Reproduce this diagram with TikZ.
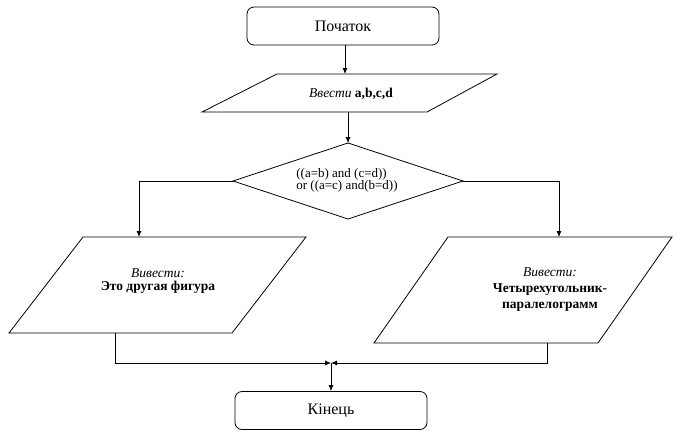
\documentclass[tikz,border=0pt]{standalone}
\usepackage{fontspec}
\setmainfont{Liberation Serif}
\usetikzlibrary{arrows.meta}
\begin{document}
\begin{tikzpicture}[x=1pt,y=-1pt,line width=0.8pt,
  term/.style={draw,rounded corners=7pt,minimum width=192pt,minimum height=38pt,font=\fontsize{16}{18}\selectfont},
  shp/.style={draw,line width=0.8pt,line join=miter},
  txt/.style={align=center,inner sep=0pt,font=\fontsize{13.5}{13}\selectfont},
  arr/.style={-{Latex[length=6pt,width=5pt]}}]
\useasboundingbox (0,0) rectangle (677,442);
\fill[white] (0,0) rectangle (677,442);
% start
\node[term] (start) at (343,26) {Початок};
% input
\draw[shp] (277,74) -- (497,74) -- (427,112) -- (202,112) -- cycle;
\coordinate (inTop) at (345,74);
\coordinate (inBot) at (348,112);
\node[txt] (intext) at (351,94) {\textit{Ввести} \textbf{a,b,c,d}};
% decision
\draw[shp] (348,143) -- (463,181) -- (348,219) -- (233,181) -- cycle;
\coordinate (dTop) at (348,143);
\coordinate (dL) at (233,181);
\coordinate (dR) at (463,181);
\node[txt,align=left,font=\fontsize{13}{12.5}\selectfont] (cond) at (347,180.5) {((a=b) and (c=d))\\or ((a=c) and(b=d))};
% left output
\draw[shp] (83,237) -- (306,237) -- (232,333) -- (9,333) -- cycle;
\coordinate (lTop) at (139,237);
\coordinate (lBot) at (115,333);
\node[txt] (ltext) at (158,281.5) {\textit{Вивести:}\\\textbf{Это другая фигура}};
% right output
\draw[shp] (448,237) -- (672,237) -- (598,343) -- (374,343) -- cycle;
\coordinate (rTop) at (559,237);
\coordinate (rBot) at (547,343);
\node[txt,font=\fontsize{13.5}{16}\selectfont] (rtext) at (550,290) {\textit{Вивести:}\\\textbf{Четырехугольник-}\\\textbf{паралелограмм}};
% merge
\coordinate (m) at (331,363);
% end
\node[term] (end) at (331,410.5) {Кінець};
% connectors
\draw[arr] (start.south -| inTop) -- (inTop);
\draw[arr] (inBot) -- (dTop);
\draw[arr] (dL) -| (lTop);
\draw[arr] (dR) -| (rTop);
\draw[arr] (lBot) |- (m);
\draw[arr] (rBot) |- (m);
\draw[arr] (m) -- (end.north -| m);
\end{tikzpicture}
\end{document}
